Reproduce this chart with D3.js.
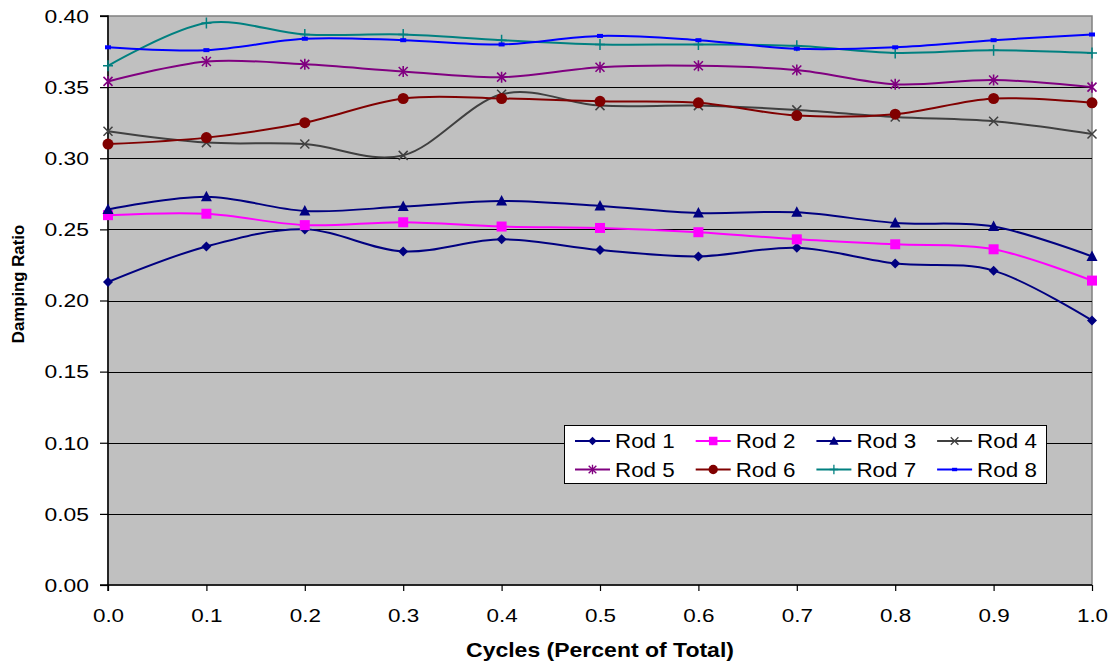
<!DOCTYPE html>
<html>
<head>
<meta charset="utf-8">
<script src="https://cdn.jsdelivr.net/npm/d3@7"></script>
<style>
  html, body { margin: 0; padding: 0; background: #fff; }
  svg { display: block; font-family: "Liberation Sans", Arial, sans-serif; }
</style>
</head>
<body>
<svg id="chart" width="1117" height="666"></svg>
<script>
// Cycle fraction at which damping was measured
const cycles = [0.0, 0.1, 0.2, 0.3, 0.4, 0.5, 0.6, 0.7, 0.8, 0.9, 1.0];

// Damping ratio per rod
const rod1 = [0.213, 0.238, 0.250, 0.2345, 0.243, 0.2355, 0.231, 0.237, 0.226, 0.221, 0.186];
const rod2 = [0.260, 0.261, 0.253, 0.255, 0.252, 0.251, 0.248, 0.243, 0.2395, 0.236, 0.214];
const rod3 = [0.264, 0.273, 0.263, 0.266, 0.270, 0.2665, 0.2615, 0.262, 0.2545, 0.252, 0.231];
const rod4 = [0.319, 0.311, 0.310, 0.302, 0.345, 0.337, 0.337, 0.334, 0.329, 0.326, 0.317];
const rod5 = [0.354, 0.368, 0.366, 0.361, 0.357, 0.364, 0.365, 0.362, 0.352, 0.355, 0.350];
const rod6 = [0.310, 0.3145, 0.325, 0.342, 0.342, 0.340, 0.339, 0.330, 0.331, 0.342, 0.339];
const rod7 = [0.365, 0.395, 0.387, 0.387, 0.383, 0.380, 0.380, 0.379, 0.374, 0.376, 0.374];
const rod8 = [0.378, 0.376, 0.384, 0.383, 0.380, 0.386, 0.383, 0.377, 0.378, 0.383, 0.387];

const seriesNames = ["Rod 1", "Rod 2", "Rod 3", "Rod 4", "Rod 5", "Rod 6", "Rod 7", "Rod 8"];
const seriesValues = [rod1, rod2, rod3, rod4, rod5, rod6, rod7, rod8];
const seriesColors = ["#000080", "#FF00FF", "#000080", "#404040", "#800080", "#800000", "#008080", "#0000FF"];
const seriesMarkers = ["diamond", "square", "triangle", "cross", "asterisk", "circle", "plus", "dash"];

const xTicks = [0.0, 0.1, 0.2, 0.3, 0.4, 0.5, 0.6, 0.7, 0.8, 0.9, 1.0];
const yTicks = [0.00, 0.05, 0.10, 0.15, 0.20, 0.25, 0.30, 0.35, 0.40];

const xTitle = "Cycles (Percent of Total)";
const yTitle = "Damping Ratio";

const svg = d3.select("#chart");
const plot = { left: 108, right: 1092, top: 16, bottom: 585 };

const x = d3.scaleLinear().domain([0, 1]).range([plot.left, plot.right]);
const y = d3.scaleLinear().domain([0, 0.40]).range([plot.bottom, plot.top]);

// Plot background
svg.append("rect")
  .attr("x", plot.left).attr("y", plot.top)
  .attr("width", plot.right - plot.left).attr("height", plot.bottom - plot.top)
  .attr("fill", "#C0C0C0")
  .attr("stroke", "#808080").attr("stroke-width", 1.5);

// Horizontal gridlines
svg.append("g")
  .selectAll("line")
  .data(yTicks.filter(d => d > 0 && d < 0.40))
  .join("line")
  .attr("x1", plot.left).attr("x2", plot.right)
  .attr("y1", d => Math.round(y(d)) + 0.5).attr("y2", d => Math.round(y(d)) + 0.5)
  .attr("stroke", "#000").attr("stroke-width", 1);

// Axes
const yAxis = d3.axisLeft(y).tickValues(yTicks).tickFormat(d3.format(".2f")).tickSize(8);
const xAxis = d3.axisBottom(x).tickValues(xTicks).tickFormat(d3.format(".1f")).tickSize(6);

const gy = svg.append("g").attr("transform", `translate(${plot.left},0)`).call(yAxis);
const gx = svg.append("g").attr("transform", `translate(0,${plot.bottom})`).call(xAxis);
[gx, gy].forEach(g => {
  g.selectAll(".domain").attr("stroke", "#000").attr("stroke-width", 1.5);
  g.selectAll(".tick line").attr("stroke", "#000").attr("stroke-width", 1.2);
  g.selectAll(".tick text").attr("fill", "#000")
    .style("font-family", "'Liberation Sans', Arial, sans-serif");
});
gy.select(".domain").attr("d", `M-8,${plot.bottom}H0V${plot.top}H-8`);
gx.select(".domain").attr("d", `M${plot.left},6V0H${plot.right}`);

// Tick labels are set slightly wide
gy.selectAll(".tick text")
  .attr("x", null).attr("dy", "0.34em")
  .style("font-size", "18.6px")
  .attr("text-anchor", "end")
  .attr("transform", "translate(-19,0) scale(1.23,1)");
gx.selectAll(".tick text")
  .attr("y", null).attr("dy", null)
  .style("font-size", "18.7px")
  .attr("text-anchor", "middle")
  .attr("transform", "translate(0,37) scale(1.2,1)");

// Axis titles
svg.append("text")
  .attr("text-anchor", "middle")
  .attr("transform", `translate(${(plot.left + plot.right) / 2},657) scale(1.18,1)`)
  .style("font-size", "19.5px").style("font-weight", "bold")
  .text(xTitle);
svg.append("text")
  .attr("transform", `translate(23.5,284) rotate(-90)`)
  .attr("text-anchor", "middle")
  .style("font-size", "16.8px").style("font-weight", "bold")
  .text(yTitle);

// Marker drawing
function drawMarker(g, type, color) {
  switch (type) {
    case "diamond":
      g.append("path").attr("d", "M0,-5L5,0L0,5L-5,0Z").attr("fill", color);
      break;
    case "square":
      g.append("rect").attr("x", -5).attr("y", -5).attr("width", 10).attr("height", 10).attr("fill", color);
      break;
    case "triangle":
      g.append("path").attr("d", "M0,-6L5.5,4.5L-5.5,4.5Z").attr("fill", color);
      break;
    case "cross":
      g.append("path").attr("d", "M-4.5,-4.5L4.5,4.5M-4.5,4.5L4.5,-4.5")
        .attr("stroke", color).attr("stroke-width", 1.5).attr("fill", "none");
      break;
    case "asterisk":
      g.append("path").attr("d", "M-4.5,-4.5L4.5,4.5M-4.5,4.5L4.5,-4.5M0,-5.5L0,5.5")
        .attr("stroke", color).attr("stroke-width", 1.6).attr("fill", "none");
      break;
    case "circle":
      g.append("circle").attr("r", 5.5).attr("fill", color);
      break;
    case "plus":
      g.append("path").attr("d", "M-5,0L5,0M0,-5.5L0,5.5")
        .attr("stroke", color).attr("stroke-width", 1.5).attr("fill", "none");
      break;
    case "dash":
      g.append("rect").attr("x", -3).attr("y", -2).attr("width", 6).attr("height", 4).attr("fill", color);
      break;
  }
}

// Smoothed series lines with markers
const line = d3.line()
  .x((d, i) => x(cycles[i]))
  .y(d => y(d))
  .curve(d3.curveCatmullRom.alpha(0));

const seriesG = svg.append("g");
seriesValues.forEach((vals, si) => {
  const color = seriesColors[si];
  seriesG.append("path")
    .datum(vals)
    .attr("d", line)
    .attr("fill", "none")
    .attr("stroke", color)
    .attr("stroke-width", 2);
  vals.forEach((v, i) => {
    const g = seriesG.append("g").attr("transform", `translate(${x(cycles[i])},${y(v)})`);
    drawMarker(g, seriesMarkers[si], color);
  });
});

// Legend
const legend = svg.append("g");
const lg = { x: 564, y: 425, w: 482, h: 58 };
legend.append("rect")
  .attr("x", lg.x + 0.5).attr("y", lg.y + 0.5)
  .attr("width", lg.w).attr("height", lg.h)
  .attr("fill", "#fff").attr("stroke", "#000").attr("stroke-width", 1);
seriesNames.forEach((name, i) => {
  const col = i % 4, row = Math.floor(i / 4);
  const lx = 575 + col * 120.7;
  const ly = 441 + row * 28.5;
  const color = seriesColors[i];
  legend.append("line")
    .attr("x1", lx).attr("x2", lx + 35)
    .attr("y1", ly).attr("y2", ly)
    .attr("stroke", color).attr("stroke-width", 2);
  const m = legend.append("g").attr("transform", `translate(${lx + 17.5},${ly}) scale(0.85)`);
  drawMarker(m, seriesMarkers[i], color);
  legend.append("text")
    .attr("transform", `translate(${lx + 40},${ly}) scale(1.12,1)`)
    .attr("dy", "0.36em")
    .style("font-size", "20px")
    .text(name);
});
</script>
</body>
</html>
